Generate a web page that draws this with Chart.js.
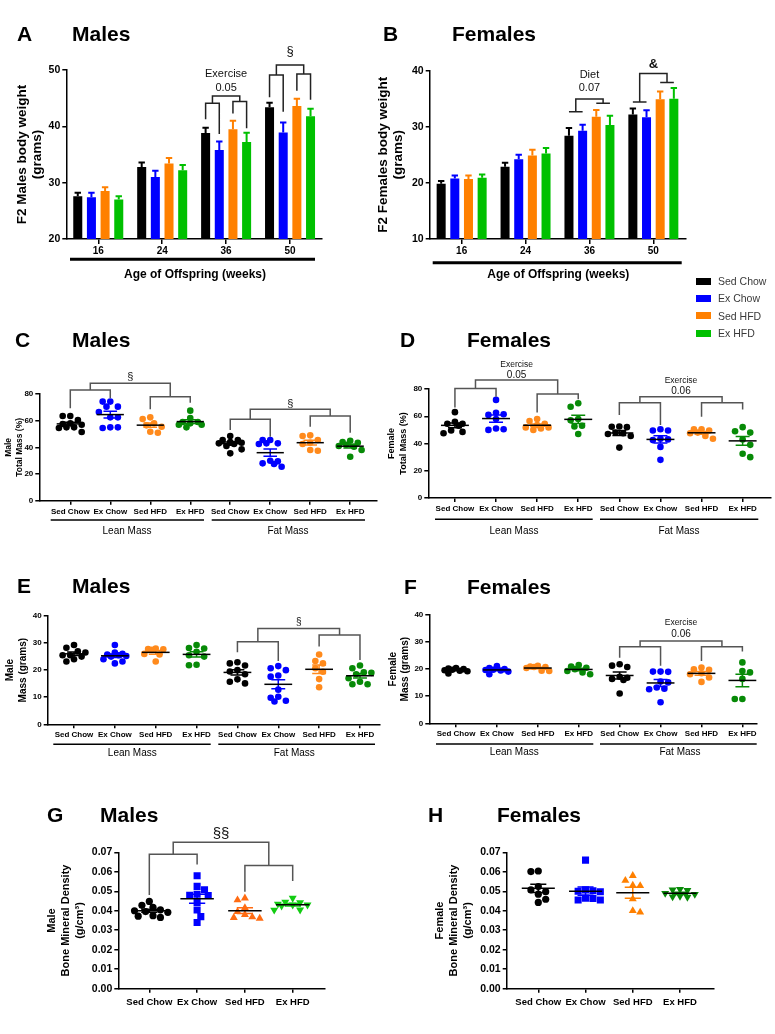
<!DOCTYPE html>
<html>
<head>
<meta charset="utf-8">
<title>F2 offspring body weight, composition and bone density</title>
<script src="https://cdn.jsdelivr.net/npm/chart.js@4.4.1/dist/chart.umd.min.js"></script>
<style>
  body { margin: 0; background: #fff; }
  #page { position: relative; width: 775px; height: 1034px; overflow: hidden; font-family: "Liberation Sans", Arial, sans-serif; }
  #page canvas { position: absolute; }
  #legend { position: absolute; left: 696px; top: 272.5px; font-size: 10.5px; color: #3a3a3a; }
  #legend div { height: 17.3px; display: flex; align-items: center; white-space: nowrap; }
  #legend span { display: inline-block; width: 15px; height: 7px; margin-right: 7px; }
</style>
</head>
<body>
<div id="page">
  <canvas id="chartA"></canvas>
  <canvas id="chartB"></canvas>
  <canvas id="chartC"></canvas>
  <canvas id="chartD"></canvas>
  <canvas id="chartE"></canvas>
  <canvas id="chartF"></canvas>
  <canvas id="chartG"></canvas>
  <canvas id="chartH"></canvas>
  <div id="legend"></div>
</div>
<script>
const FONT = '"Liberation Sans", Arial, sans-serif';
Chart.defaults.font.family = FONT;
Chart.defaults.color = '#000';

// ---- data ----
const groups = ['Sed Chow', 'Ex Chow', 'Sed HFD', 'Ex HFD'];
const ages = ['16', '24', '36', '50'];
const massGroups = groups.concat(groups);

// body weight (g) per age, one row per group
const maleWeight = [
  [27.6, 32.8, 38.8, 43.4],
  [27.4, 31.0, 35.8, 38.9],
  [28.5, 33.4, 39.5, 43.6],
  [27.0, 32.2, 37.2, 41.8]
];
const maleWeightSem = [
  [0.6, 0.8, 0.95, 0.8],
  [0.8, 1.1, 1.5, 1.8],
  [0.7, 1.0, 1.5, 1.3],
  [0.6, 0.95, 1.65, 1.3]
];
const femaleWeight = [
  [19.85, 22.9, 28.4, 32.2],
  [20.8, 24.2, 29.3, 31.7],
  [20.7, 24.9, 31.8, 34.9],
  [20.9, 25.25, 30.3, 35.0]
];
const femaleWeightSem = [
  [0.5, 0.7, 1.4, 1.05],
  [0.5, 0.8, 1.05, 1.25],
  [0.6, 1.0, 1.2, 1.4],
  [0.6, 0.95, 1.65, 1.9]
];

// total mass (%) per animal: lean groups then fat groups
const maleLeanPct = [
  [63.5, 63.5, 60.5, 58, 57.5, 57, 55, 55, 54.5, 51.5],
  [74.3, 74.3, 70.5, 70.5, 66.5, 62.5, 62.5, 55, 55, 54.5],
  [62.5, 61.25, 58, 56.5, 55.5, 51.75, 51],
  [67.5, 62, 59, 59, 58, 57, 57, 55]
];
const maleFatPct = [
  [48.5, 45.5, 45.5, 44, 43.5, 43, 42.5, 41, 38.5, 35.5],
  [45.5, 45.5, 43, 43, 42.5, 30, 29.5, 28, 27.5, 25.5],
  [49, 48.5, 45.5, 43.5, 42.5, 38, 37.5],
  [45, 44, 43.5, 42, 41, 40.5, 38, 33]
];
const femaleLeanPct = [
  [63, 56, 54.5, 54.5, 53, 49.5, 48.5, 47.5],
  [72, 62.5, 61.5, 61, 58, 51, 50.5, 50],
  [58, 56.5, 54.5, 53.5, 51.8, 51.8, 51, 50],
  [69.5, 67, 58, 57, 53, 52.5, 47]
];
const femaleFatPct = [
  [52.5, 52.3, 52, 48, 47.5, 47, 45.5, 37],
  [50.5, 49.5, 49.5, 43.5, 43, 42.5, 37.5, 28],
  [50.5, 50.5, 49.5, 48, 47.5, 45.5, 43.5],
  [52, 49, 48, 43, 39, 32.5, 30]
];

// mass (g) per animal
const maleLeanG = [
  [29.3, 28.3, 27, 26.5, 25.5, 25.5, 25, 24, 23.2],
  [29.3, 26.5, 26, 25.8, 25.5, 25.2, 25, 24, 23.2, 22.5],
  [28, 27.8, 27.7, 27.5, 26, 25.8, 23.2],
  [29.3, 28.2, 28, 26.8, 25.5, 25, 22, 21.8]
];
const maleFatG = [
  [22.9, 22.5, 21.7, 20, 19.5, 18.5, 16.6, 15.7, 15.1],
  [21.5, 20.7, 20, 18, 17.6, 12.8, 10.2, 9.8, 8.7, 8.4],
  [25.8, 23.4, 22.5, 20.7, 19.4, 16.7, 13.7],
  [21.7, 20.7, 19.2, 19, 18.5, 17, 15.7, 14.8, 14.8]
];
const femaleLeanG = [
  [20.4, 20.2, 20, 19.8, 19.6, 19.4, 19.2, 18.4],
  [21.1, 20.4, 20, 19.8, 19.7, 19.5, 19.1, 18.1],
  [21.2, 21, 20.8, 20.8, 20.4, 19.4, 19.3],
  [21.5, 21, 20.5, 20, 19.3, 18.8, 18.1]
];
const femaleFatG = [
  [21.8, 21.3, 20.8, 17.2, 16.8, 16.4, 16, 11],
  [19.1, 19.1, 19, 15.4, 15.1, 13.2, 12.8, 12.6, 7.8],
  [20.6, 19.9, 19.8, 18.5, 18.1, 16.9, 15.3],
  [22.5, 19.3, 18.8, 16.4, 9, 9]
];

// bone mineral density (g/cm3) per animal
const maleBmd = [
  [0.0448, 0.0428, 0.0418, 0.0405, 0.040, 0.0396, 0.0392, 0.0375, 0.0372, 0.0366],
  [0.058, 0.0525, 0.0508, 0.0485, 0.048, 0.0478, 0.0443, 0.0404, 0.037, 0.034],
  [0.0465, 0.0455, 0.0415, 0.0395, 0.038, 0.0368, 0.0365, 0.0361],
  [0.0465, 0.0445, 0.0442, 0.0435, 0.043, 0.043, 0.0425, 0.0405, 0.0404]
];
const femaleBmd = [
  [0.0604, 0.0601, 0.0524, 0.0507, 0.0498, 0.0485, 0.0459, 0.0443],
  [0.066, 0.0507, 0.0503, 0.05, 0.0498, 0.0465, 0.0463, 0.0455, 0.0455],
  [0.058, 0.0555, 0.053, 0.0528, 0.046, 0.04, 0.0392],
  [0.051, 0.0507, 0.0505, 0.049, 0.0485, 0.0475, 0.0472, 0.047]
];

// ---- styles ----
const barColors = ['#000000', '#0000ff', '#ff8000', '#00c000'];
const dotColors = ['#000000', '#0000ff', '#ff8a1c', '#078a07'];
const bmdColorsM = ['#000000', '#0000ff', '#ff6b12', '#12cc12'];
const bmdColorsF = ['#000000', '#0000ff', '#ff8000', '#088a08'];
const dots = [0, 1, 2, 3].map(() => ({style: 'circle', r: 3.3}));
const bmdMarks = [
  {style: 'circle', r: 3.6},
  {style: 'rect', r: 5},
  {style: 'triangle', r: 4.6},
  {style: 'triangle', r: 4.6, rot: 180}
];

document.getElementById('legend').innerHTML = groups
  .map((g, i) => `<div><span style="background:${barColors[i]}"></span>${g}</div>`).join('');

function setup(id, box) {
  const c = document.getElementById(id);
  c.width = box.w;
  c.height = box.h;
  Object.assign(c.style, {left: box.x + 'px', top: box.y + 'px', width: box.w + 'px', height: box.h + 'px'});
  return c;
}

function yAxis(cfg) {
  return {
    min: cfg.min,
    max: cfg.max,
    ticks: {
      stepSize: cfg.step, color: '#000', padding: 2,
      font: {size: cfg.tick, weight: 'bold'},
      callback: v => cfg.digits ? v.toFixed(cfg.digits) : String(v)
    },
    grid: {drawOnChartArea: false, drawTicks: true, tickLength: 4, color: '#000', lineWidth: 1.5},
    border: {color: '#000', width: 1.5},
    title: {display: true, text: cfg.title, color: '#000', padding: 0, font: {size: cfg.size, weight: 'bold', lineHeight: cfg.lh}},
    afterFit: s => { s.width = cfg.width; }
  };
}

// GraphPad-like scatter: each point takes the free slot nearest the centre line
function swarmOffsets(py, d, maxHalf) {
  const order = py.map((p, i) => i).sort((a, b) => py[a] - py[b]);
  const step = d / 2;
  const slots = Math.floor(maxHalf / step);
  const offs = new Array(py.length).fill(0);
  const placed = [];
  order.forEach((idx, n) => {
    const sign = n % 2 ? -1 : 1;
    const cands = [0];
    for (let k = 1; k <= slots; k++) cands.push(sign * k * step, -sign * k * step);
    let best = 0, bestScore = -1;
    for (const x of cands) {
      let minD = Infinity;
      placed.forEach(p => { minD = Math.min(minD, Math.hypot(p.x - x, p.y - py[idx])); });
      if (minD >= d * 0.92) { best = x; break; }
      if (minD > bestScore) { bestScore = minD; best = x; }
    }
    offs[idx] = best;
    placed.push({x: best, y: py[idx]});
  });
  return offs;
}

function swarm(chart, d, spread) {
  const xs = chart.scales.x, ys = chart.scales.y;
  const maxHalf = spread * (xs.getPixelForValue(1) - xs.getPixelForValue(0));
  chart.data.datasets.forEach(ds => {
    const offs = swarmOffsets(ds.values.map(v => ys.getPixelForValue(v)), d, maxHalf);
    const cx = xs.getPixelForValue(ds.center);
    ds.data = ds.values.map((v, k) => ({x: xs.getValueForPixel(cx + offs[k]), y: v}));
  });
  chart.update('none');
}

function makeDecor(spec) {
  const ox = spec.box.x, oy = spec.box.y;
  return {
    id: 'decor',
    afterDatasetsDraw(chart) {
      const ctx = chart.ctx, xs = chart.scales.x, ys = chart.scales.y;
      ctx.save();
      if (spec.sems) {
        chart.data.datasets.forEach((ds, di) => {
          chart.getDatasetMeta(di).data.forEach((bar, i) => {
            const top = ys.getPixelForValue(ds.data[i] + spec.sems[di][i]);
            ctx.strokeStyle = ds.backgroundColor;
            ctx.lineWidth = 2;
            ctx.beginPath();
            ctx.moveTo(bar.x, bar.y);
            ctx.lineTo(bar.x, top);
            ctx.moveTo(bar.x - 3.2, top);
            ctx.lineTo(bar.x + 3.2, top);
            ctx.stroke();
          });
        });
      }
      if (spec.meanLine) {
        const step = xs.getPixelForValue(1) - xs.getPixelForValue(0);
        chart.data.datasets.forEach(ds => {
          const v = ds.values, n = v.length;
          const m = v.reduce((a, b) => a + b, 0) / n;
          const se = Math.sqrt(v.reduce((a, b) => a + (b - m) ** 2, 0) / (n - 1) / n);
          const cx = xs.getPixelForValue(ds.center);
          const ym = ys.getPixelForValue(m);
          const y1 = ys.getPixelForValue(m + se), y2 = ys.getPixelForValue(m - se);
          const hw = step * spec.meanLine, cw = step * spec.cap;
          ctx.lineWidth = 1.5;
          ctx.strokeStyle = ds.borderColor;
          ctx.beginPath();
          ctx.moveTo(cx, y1); ctx.lineTo(cx, y2);
          ctx.moveTo(cx - cw, y1); ctx.lineTo(cx + cw, y1);
          ctx.moveTo(cx - cw, y2); ctx.lineTo(cx + cw, y2);
          ctx.stroke();
          ctx.strokeStyle = '#000';
          ctx.beginPath();
          ctx.moveTo(cx - hw, ym); ctx.lineTo(cx + hw, ym);
          ctx.stroke();
        });
      }
      ctx.restore();
    },
    afterDraw(chart) {
      const ctx = chart.ctx, xs = chart.scales.x, ys = chart.scales.y;
      ctx.save();
      ctx.fillStyle = '#000';
      ctx.textAlign = 'left';
      ctx.textBaseline = 'alphabetic';
      ctx.font = `bold 21px ${FONT}`;
      spec.heads.items.forEach(([t, x]) => ctx.fillText(t, x - ox, spec.heads.y - oy));

      ctx.strokeStyle = '#000';
      (spec.rules || []).forEach(r => {
        ctx.lineWidth = r.w;
        ctx.beginPath();
        ctx.moveTo(r.x1 - ox, r.y - oy);
        ctx.lineTo(r.x2 - ox, r.y - oy);
        ctx.stroke();
      });
      ctx.textAlign = 'center';
      ctx.textBaseline = 'middle';
      (spec.labels || []).forEach(l => {
        ctx.fillStyle = l.color || '#000';
        ctx.font = `${l.bold ? 'bold ' : ''}${l.size}px ${FONT}`;
        ctx.fillText(l.t, l.x - ox, l.y - oy);
      });

      const px = r => Array.isArray(r) ? chart.getDatasetMeta(r[1]).data[r[0]].x : xs.getPixelForValue(r);
      (spec.brackets || []).forEach(b => {
        const [x1, x2, x3, x4] = b.at.map(px);
        const yl = ys.getPixelForValue(b.sub[0]), yr = ys.getPixelForValue(b.sub[1]);
        const yt = ys.getPixelForValue(b.top);
        const ml = (x1 + x2) / 2, mr = (x3 + x4) / 2;
        ctx.strokeStyle = spec.bracketColor;
        ctx.lineWidth = 1.5;
        ctx.beginPath();
        if (b.legs) {
          const lg = b.legs.map(v => ys.getPixelForValue(v));
          ctx.moveTo(x1, lg[0]); ctx.lineTo(x1, yl); ctx.lineTo(x2, yl); ctx.lineTo(x2, lg[1]);
          ctx.moveTo(x3, lg[2]); ctx.lineTo(x3, yr); ctx.lineTo(x4, yr); ctx.lineTo(x4, lg[3]);
        } else {
          ctx.moveTo(x1, yl); ctx.lineTo(x2, yl);
          ctx.moveTo(x3, yr); ctx.lineTo(x4, yr);
        }
        ctx.moveTo(ml, yl); ctx.lineTo(ml, yt); ctx.lineTo(mr, yt); ctx.lineTo(mr, yr);
        ctx.stroke();
        ctx.fillStyle = '#111';
        b.notes.forEach(n => {
          ctx.font = `${n.bold ? 'bold ' : ''}${n.size}px ${FONT}`;
          ctx.fillText(n.t, (ml + mr) / 2, ys.getPixelForValue(n.v));
        });
      });
      ctx.restore();
    }
  };
}

function barChart(id, box, pad, means, y, spec) {
  spec.box = box;
  return new Chart(setup(id, box), {
    type: 'bar',
    data: {
      labels: ages,
      datasets: means.map((d, i) => ({
        label: groups[i], data: d, backgroundColor: barColors[i], borderWidth: 0,
        categoryPercentage: 0.855, barPercentage: 0.66
      }))
    },
    options: {
      responsive: false, animation: false, devicePixelRatio: 1, events: [],
      layout: {padding: pad},
      plugins: {legend: {display: false}, tooltip: {enabled: false}},
      scales: {
        x: {
          grid: {offset: false, drawOnChartArea: false, tickLength: 5, color: '#000', lineWidth: 1.5},
          border: {color: '#000', width: 1.5},
          ticks: {font: {size: 10, weight: 'bold'}, color: '#000', padding: 1, maxRotation: 0},
          afterFit: s => { s.height = 30; }
        },
        y: yAxis(y)
      }
    },
    plugins: [makeDecor(spec)]
  });
}

function dotChart(id, box, pad, sets, labels, x, y, colors, marks, spec) {
  spec.box = box;
  const chart = new Chart(setup(id, box), {
    type: 'scatter',
    data: {
      datasets: sets.map((vals, i) => {
        const g = i % 4;
        return {
          data: vals.map(v => ({x: i, y: v})), values: vals, center: i,
          backgroundColor: colors[g], borderColor: colors[g],
          pointStyle: marks[g].style, pointRadius: marks[g].r, pointRotation: marks[g].rot || 0,
          pointBorderWidth: 0, showLine: false
        };
      })
    },
    options: {
      responsive: false, animation: false, devicePixelRatio: 1, events: [],
      layout: {padding: pad},
      plugins: {legend: {display: false}, tooltip: {enabled: false}},
      scales: {
        x: {
          type: 'linear', min: x.min, max: x.max,
          afterBuildTicks: s => { s.ticks = labels.map((_, i) => ({value: i})); },
          ticks: {font: {size: x.tick, weight: 'bold'}, color: '#000', padding: x.pad, maxRotation: 0, autoSkip: false,
                  callback: v => labels[v]},
          grid: {drawOnChartArea: false, tickLength: 4, color: '#000', lineWidth: 1.5},
          border: {color: '#000', width: 1.5},
          afterFit: s => { s.height = x.h; }
        },
        y: yAxis(y)
      }
    },
    plugins: [makeDecor(spec)]
  });
  swarm(chart, spec.d, spec.spread);
  return chart;
}

// ---- A: males body weight ----
barChart('chartA', {x: 0, y: 20, w: 380, h: 270},
  {left: 14.37, top: 50, right: 58, bottom: 21}, maleWeight,
  {min: 20, max: 50, step: 10, width: 51.93, tick: 10.5, title: ['F2 Males body weight', '(grams)'], size: 13.5, lh: 1.13},
  {
    sems: maleWeightSem, bracketColor: '#222',
    heads: {y: 41, items: [['A', 17], ['Males', 72]]},
    rules: [{x1: 70, x2: 315, y: 259.3, w: 3}],
    labels: [{t: 'Age of Offspring (weeks)', x: 195, y: 275, size: 12, bold: true}],
    brackets: [
      {at: [[2, 0], [2, 1], [2, 2], [2, 3]], legs: [41.25, 38.65, 42.3, 39.65], sub: [44.1, 44.4], top: 45.4,
       notes: [{t: 'Exercise', v: 49.3, size: 11}, {t: '0.05', v: 46.75, size: 11}]},
      {at: [[3, 0], [3, 1], [3, 2], [3, 3]], legs: [45.15, 42.6, 46.3, 44.7], sub: [49.1, 49.3], top: 50.9,
       notes: [{t: '§', v: 53.25, size: 13}]}
    ]
  });

// ---- B: females body weight ----
barChart('chartB', {x: 370, y: 20, w: 405, h: 270},
  {left: 5.37, top: 50.7, right: 89.7, bottom: 21}, femaleWeight,
  {min: 10, max: 40, step: 10, width: 54.33, tick: 10.5, title: ['F2 Females body weight', '(grams)'], size: 13.5, lh: 1.13},
  {
    sems: femaleWeightSem, bracketColor: '#222',
    heads: {y: 41, items: [['B', 383], ['Females', 452]]},
    rules: [{x1: 432.7, x2: 681.7, y: 262.7, w: 3}],
    labels: [{t: 'Age of Offspring (weeks)', x: 558.3, y: 275, size: 12, bold: true}],
    brackets: [
      {at: [[2, 0], [2, 1], [2, 2], [2, 3]], legs: null, sub: [32.7, 34.2], top: 34.95,
       notes: [{t: 'Diet', v: 39.2, size: 11}, {t: '0.07', v: 36.9, size: 11}]},
      {at: [[3, 0], [3, 1], [3, 2], [3, 3]], legs: null, sub: [34.4, 37.9], top: 39.5,
       notes: [{t: '&', v: 41.2, size: 13, bold: true}]}
    ]
  });

// ---- C: males total mass % ----
dotChart('chartC', {x: 0, y: 300, w: 385, h: 240},
  {left: 2.43, top: 94, right: 8, bottom: 19.3}, maleLeanPct.concat(maleFatPct), massGroups,
  {min: -0.775, max: 7.67, tick: 8, pad: 2, h: 20},
  {min: 0, max: 80, step: 20, width: 36.87, tick: 8, title: ['Male', 'Total Mass (%)'], size: 8.5, lh: 1.38},
  dotColors, dots,
  {
    d: 7.6, spread: 0.34, meanLine: 0.34, cap: 0.17, bracketColor: '#555',
    heads: {y: 347, items: [['C', 15], ['Males', 72]]},
    rules: [{x1: 50.7, x2: 204, y: 520, w: 1.5}, {x1: 211.7, x2: 365, y: 520, w: 1.5}],
    labels: [{t: 'Lean Mass', x: 127, y: 531, size: 10}, {t: 'Fat Mass', x: 288, y: 531, size: 10}],
    brackets: [
      {at: [0, 1, 2, 3], legs: [69.25, 76.75, 68.5, 73.5], sub: [83, 78], top: 88, notes: [{t: '§', v: 93, size: 11}]},
      {at: [4, 5, 6, 7], legs: [53, 48, 55.5, 51], sub: [61, 63.5], top: 68.5, notes: [{t: '§', v: 72.5, size: 11}]}
    ]
  });

// ---- D: females total mass % ----
dotChart('chartD', {x: 380, y: 300, w: 395, h: 240},
  {left: 5.9, top: 89, right: 3.3, bottom: 22}, femaleLeanPct.concat(femaleFatPct), massGroups,
  {min: -0.648, max: 7.69, tick: 8, pad: 2, h: 20},
  {min: 0, max: 80, step: 20, width: 42.4, tick: 8, title: ['Female', 'Total Mass (%)'], size: 9, lh: 1.29},
  dotColors, dots,
  {
    d: 7.6, spread: 0.34, meanLine: 0.34, cap: 0.17, bracketColor: '#555',
    heads: {y: 347, items: [['D', 400], ['Females', 467]]},
    rules: [{x1: 435, x2: 592.7, y: 519.3, w: 1.5}, {x1: 600, x2: 758.3, y: 519.3, w: 1.5}],
    labels: [{t: 'Lean Mass', x: 514, y: 531, size: 10}, {t: 'Fat Mass', x: 679, y: 531, size: 10}],
    brackets: [
      {at: [0, 1, 2, 3], legs: [66.5, 74.3, 62.8, 72.4], sub: [80.4, 76.3], top: 86.6,
       notes: [{t: 'Exercise', v: 97.6, size: 8.5}, {t: '0.05', v: 90.2, size: 10}]},
      {at: [4, 5, 6, 7], legs: [60.9, 53.5, 59.7, 65], sub: [69.9, 69.9], top: 74.3,
       notes: [{t: 'Exercise', v: 86.1, size: 8.5}, {t: '0.06', v: 78.7, size: 10}]}
    ]
  });

// ---- E: males mass (g) ----
dotChart('chartE', {x: 0, y: 540, w: 385, h: 240},
  {left: 3.35, top: 76, right: 5, bottom: 35.7}, maleLeanG.concat(maleFatG), massGroups,
  {min: -0.644, max: 7.49, tick: 8, pad: 2, h: 20},
  {min: 0, max: 40, step: 10, width: 44.35, tick: 8, title: ['Male', 'Mass (grams)'], size: 10, lh: 1.33},
  dotColors, dots,
  {
    d: 7.6, spread: 0.34, meanLine: 0.34, cap: 0.17, bracketColor: '#555',
    heads: {y: 593, items: [['E', 17], ['Males', 72]]},
    rules: [{x1: 53.3, x2: 210.7, y: 744.3, w: 1.5}, {x1: 218.3, x2: 375, y: 744.3, w: 1.5}],
    labels: [{t: 'Lean Mass', x: 132.3, y: 753.5, size: 10}, {t: 'Fat Mass', x: 294.3, y: 753.5, size: 10}],
    brackets: [
      {at: [4, 5, 6, 7], legs: [26.6, 23.4, 28.7, 23.75], sub: [30.5, 33], top: 35.4, notes: [{t: '§', v: 37.7, size: 10}]}
    ]
  });

// ---- F: females mass (g) ----
dotChart('chartF', {x: 380, y: 540, w: 395, h: 240},
  {left: 7.45, top: 75, right: 18.3, bottom: 36.7}, femaleLeanG.concat(femaleFatG), massGroups,
  {min: -0.653, max: 7.35, tick: 8, pad: 2, h: 20},
  {min: 0, max: 40, step: 10, width: 41.85, tick: 8, title: ['Female', 'Mass (grams)'], size: 10, lh: 1.17},
  dotColors, dots,
  {
    d: 7.6, spread: 0.34, meanLine: 0.34, cap: 0.17, bracketColor: '#555',
    heads: {y: 594, items: [['F', 404], ['Females', 467]]},
    rules: [{x1: 436, x2: 593.3, y: 744, w: 1.5}, {x1: 600, x2: 756.7, y: 744, w: 1.5}],
    labels: [{t: 'Lean Mass', x: 514.3, y: 752.3, size: 10}, {t: 'Fat Mass', x: 680, y: 752.3, size: 10}],
    brackets: [
      {at: [4, 5, 6, 7], legs: [24.2, 21.3, 23, 26.5], sub: [28.3, 28.3], top: 30.4,
       notes: [{t: 'Exercise', v: 37, size: 8.5}, {t: '0.06', v: 32.9, size: 10}]}
    ]
  });

// ---- G: males bone mineral density ----
dotChart('chartG', {x: 0, y: 780, w: 380, h: 254},
  {left: 44.6, top: 72.3, right: 55, bottom: 20.3}, maleBmd, groups,
  {min: -0.649, max: 3.676, tick: 9.5, pad: 4.3, h: 25},
  {min: 0, max: 0.07, step: 0.01, digits: 2, width: 73.7, tick: 10.5, title: ['Male', 'Bone Mineral Density', '(g/cm³)'], size: 11, lh: 1.29},
  bmdColorsM, bmdMarks,
  {
    d: 7.4, spread: 0.4, meanLine: 0.35, cap: 0.17, bracketColor: '#555',
    heads: {y: 822, items: [['G', 47], ['Males', 100]]},
    brackets: [
      {at: [0, 1, 2, 3], legs: [0.0481, 0.0638, 0.0498, 0.0553], sub: [0.069, 0.0632], top: 0.0751,
       notes: [{t: '§§', v: 0.0797, size: 15}]}
    ]
  });

// ---- H: females bone mineral density ----
dotChart('chartH', {x: 380, y: 780, w: 395, h: 254},
  {left: 52.9, top: 72.3, right: 61.7, bottom: 20.3}, femaleBmd, groups,
  {min: -0.669, max: 3.705, tick: 9.5, pad: 4.3, h: 25},
  {min: 0, max: 0.07, step: 0.01, digits: 2, width: 73.8, tick: 10.5, title: ['Female', 'Bone Mineral Density', '(g/cm³)'], size: 11, lh: 1.29},
  bmdColorsF, bmdMarks,
  {
    d: 7.4, spread: 0.4, meanLine: 0.35, cap: 0.17, bracketColor: '#555',
    heads: {y: 822, items: [['H', 428], ['Females', 497]]}
  });
</script>
</body>
</html>
